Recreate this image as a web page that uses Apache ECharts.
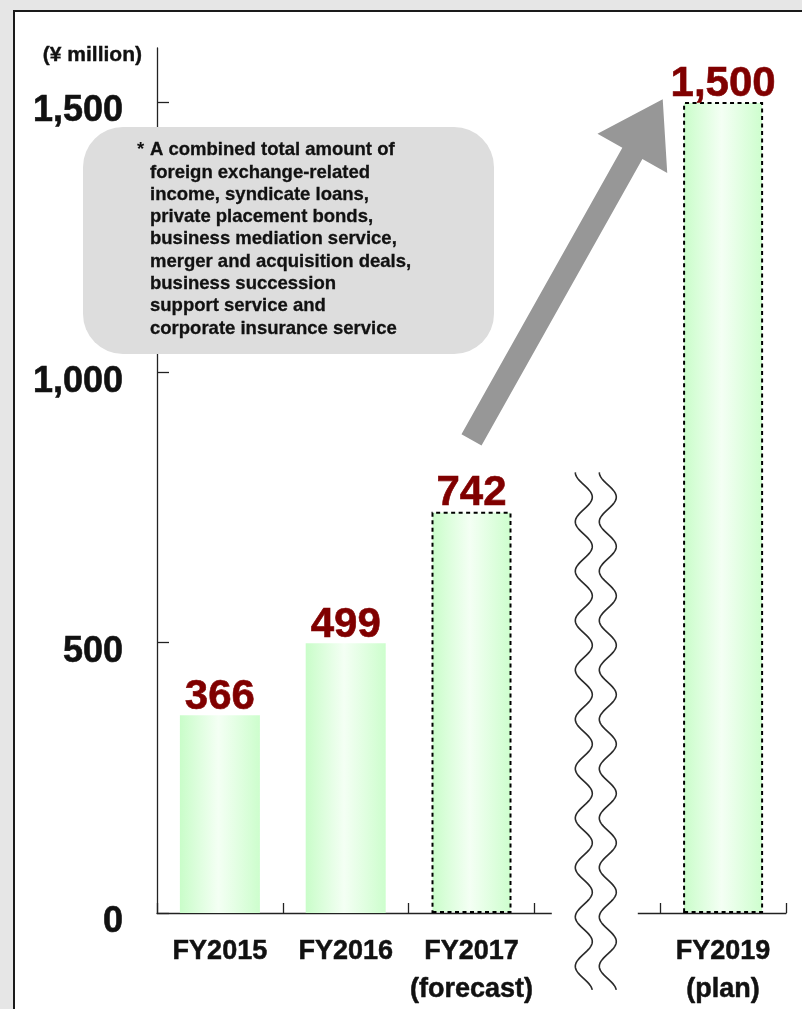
<!DOCTYPE html>
<html>
<head>
<meta charset="utf-8">
<title>Fee income</title>
<script src="https://cdn.jsdelivr.net/npm/echarts@6/dist/echarts.min.js"></script>
<style>
  html, body { margin: 0; padding: 0; background: #e6e6e6; }
  #page { position: relative; width: 802px; height: 1009px; overflow: hidden; }
  #panel { position: absolute; left: 13px; top: 10px; width: 900px; height: 1100px;
           background: #ffffff; border: 2px solid #1a1a1a; box-sizing: border-box; }
  #chart { position: absolute; left: 0; top: 0; width: 802px; height: 1009px; }
</style>
</head>
<body>
<div id="page">
  <div id="panel"></div>
  <div id="chart"></div>
</div>
<script>
// Fiscal years on the x axis; the empty slot holds the axis break
const categories = ['FY2015', 'FY2016', 'FY2017\n(forecast)', '', 'FY2019\n(plan)'];
// Amounts in ¥ million
const values = [366, 499, 742, null, 1500];
// Forecast / plan bars get a dotted outline
const dottedOutline = [false, false, true, false, true];
// Y axis tick values
const yTicks = [0, 500, 1000, 1500];
const yMax = 1600;
// Footnote lines
const noteLines = [
  'A combined total amount of',
  'foreign exchange-related',
  'income, syndicate loans,',
  'private placement bonds,',
  'business mediation service,',
  'merger and acquisition deals,',
  'business succession',
  'support service and',
  'corporate insurance service'
];
const breakIndex = 3;

const FONT = "'Liberation Sans', Arial, Helvetica, sans-serif";
const fmt = v => Number(v).toLocaleString('en-US');

const barFill = {
  type: 'linear', x: 0, y: 0, x2: 1, y2: 0,
  colorStops: [
    { offset: 0, color: '#c9fdc9' },
    { offset: 0.48, color: '#f4fff4' },
    { offset: 1, color: '#cdfecd' }
  ]
};

const seriesData = values.map((v, i) => ({
  value: v,
  itemStyle: dottedOutline[i]
    ? { color: barFill, borderColor: '#000', borderWidth: 2, borderType: [4, 3.5] }
    : { color: barFill, borderWidth: 0 }
}));

const chart = echarts.init(document.getElementById('chart'), null, { renderer: 'canvas' });

chart.setOption({
  backgroundColor: 'transparent',
  animation: false,
  grid: { left: 157, right: 16, top: 48, bottom: 95 },
  xAxis: {
    type: 'category',
    data: categories,
    boundaryGap: true,
    axisLine: { show: true, lineStyle: { color: '#222', width: 1.3 } },
    axisTick: { show: true, inside: true, length: 10, interval: 0, alignWithLabel: false,
                lineStyle: { color: '#222', width: 1.3 } },
    axisLabel: { interval: 0, margin: 20, color: '#111', fontFamily: FONT,
                 fontWeight: 'bold', fontSize: 27, lineHeight: 38,
                 textBorderColor: '#111', textBorderWidth: 0.5 },
    splitLine: { show: false }
  },
  yAxis: {
    type: 'value',
    min: 0,
    max: yMax,
    name: '(¥ million)',
    nameLocation: 'end',
    nameGap: -7,
    nameTextStyle: { fontFamily: FONT, fontWeight: 'bold', fontSize: 21, color: '#111',
                     align: 'right', verticalAlign: 'middle', padding: [0, 15, 0, 0],
                     textBorderColor: '#111', textBorderWidth: 0.4 },
    axisLine: { show: true, lineStyle: { color: '#222', width: 1.3 } },
    axisTick: { show: true, inside: true, length: 12, customValues: yTicks,
                lineStyle: { color: '#222', width: 1.3 } },
    axisLabel: { customValues: yTicks, formatter: v => fmt(v), margin: 34,
                 fontFamily: FONT, fontWeight: 'bold', fontSize: 36, color: '#111',
                 verticalAlign: 'top', lineHeight: 19,
                 textBorderColor: '#111', textBorderWidth: 0.6 },
    splitLine: { show: false }
  },
  series: [{
    type: 'bar',
    data: seriesData,
    barWidth: 80,
    z: 3,
    label: {
      show: true,
      position: 'top',
      distance: -3,
      formatter: p => (p.value == null ? '' : fmt(p.value)),
      fontFamily: FONT, fontWeight: 'bold', fontSize: 42, color: '#800000',
      textBorderColor: '#800000', textBorderWidth: 0.6
    }
  }]
});

// Decorations placed from the axis scales: footnote box, growth arrow, axis break
function drawDecorations() {
  const xAt = idx => chart.convertToPixel({ xAxisIndex: 0 }, idx);
  const yAt = v => chart.convertToPixel({ yAxisIndex: 0 }, v);
  const cw = xAt(1) - xAt(0);
  const xFrac = f => xAt(0) + cw * f;   // fractional category position
  const axisY = yAt(0);
  const breakX = xAt(breakIndex);

  // growth arrow from above FY2017 toward the FY2019 bar top
  const tail = [xFrac(2), yAt(875)];
  const tip = [xFrac(3.52), yAt(1505)];
  const dx = tip[0] - tail[0], dy = tip[1] - tail[1];
  const len = Math.hypot(dx, dy);
  const u = [dx / len, dy / len];
  const n = [-u[1], u[0]];
  const shaftHalf = 11.5, headHalf = 40, headLen = 62;
  const base = [tip[0] - u[0] * headLen, tip[1] - u[1] * headLen];
  const off = (p, s) => [p[0] + n[0] * s, p[1] + n[1] * s];
  const arrowPts = [
    off(tail, -shaftHalf), off(tail, shaftHalf),
    off(base, shaftHalf), off(base, headHalf), tip,
    off(base, -headHalf), off(base, -shaftHalf)
  ];

  // two wavy break lines
  const waveTop = yAt(815);
  const waveBottom = axisY + 78;
  const halfPeriod = (waveBottom - waveTop) / 21;
  const amp = 8.5;
  function wave(cx) {
    const pts = [];
    for (let y = waveTop; y <= waveBottom + 0.01; y += 1.5) {
      pts.push([cx - amp * Math.cos(Math.PI * (y - waveTop) / halfPeriod), y]);
    }
    return pts;
  }

  const noteFont = 'bold 18.5px ' + FONT;
  chart.setOption({
    graphic: [
      { type: 'rect', z: 50, silent: true,
        shape: { x: breakX - 45.5, y: axisY - 3, width: 86, height: 6 },
        style: { fill: '#ffffff' } },
      { type: 'polyline', z: 51, silent: true, shape: { points: wave(breakX - 13.5) },
        style: { stroke: '#2a2a2a', lineWidth: 1.6, fill: null } },
      { type: 'polyline', z: 51, silent: true, shape: { points: wave(breakX + 10.5) },
        style: { stroke: '#2a2a2a', lineWidth: 1.6, fill: null } },
      { type: 'polygon', z: 52, silent: true, shape: { points: arrowPts },
        style: { fill: '#979797' } },
      { type: 'rect', z: 60, silent: true,
        shape: { x: 83, y: 127, width: 411, height: 227, r: 40 },
        style: { fill: '#dddddd' } },
      { type: 'text', z: 61, silent: true,
        style: { x: 137, y: 139, text: '*', font: noteFont, fill: '#111',
                 verticalAlign: 'top', lineHeight: 22.3 } },
      { type: 'text', z: 61, silent: true,
        style: { x: 150, y: 139, text: noteLines.join('\n'), font: noteFont,
                 fill: '#111', verticalAlign: 'top', lineHeight: 22.3,
                 stroke: '#111', lineWidth: 0.3 } }
    ]
  });
}
drawDecorations();
</script>
</body>
</html>
